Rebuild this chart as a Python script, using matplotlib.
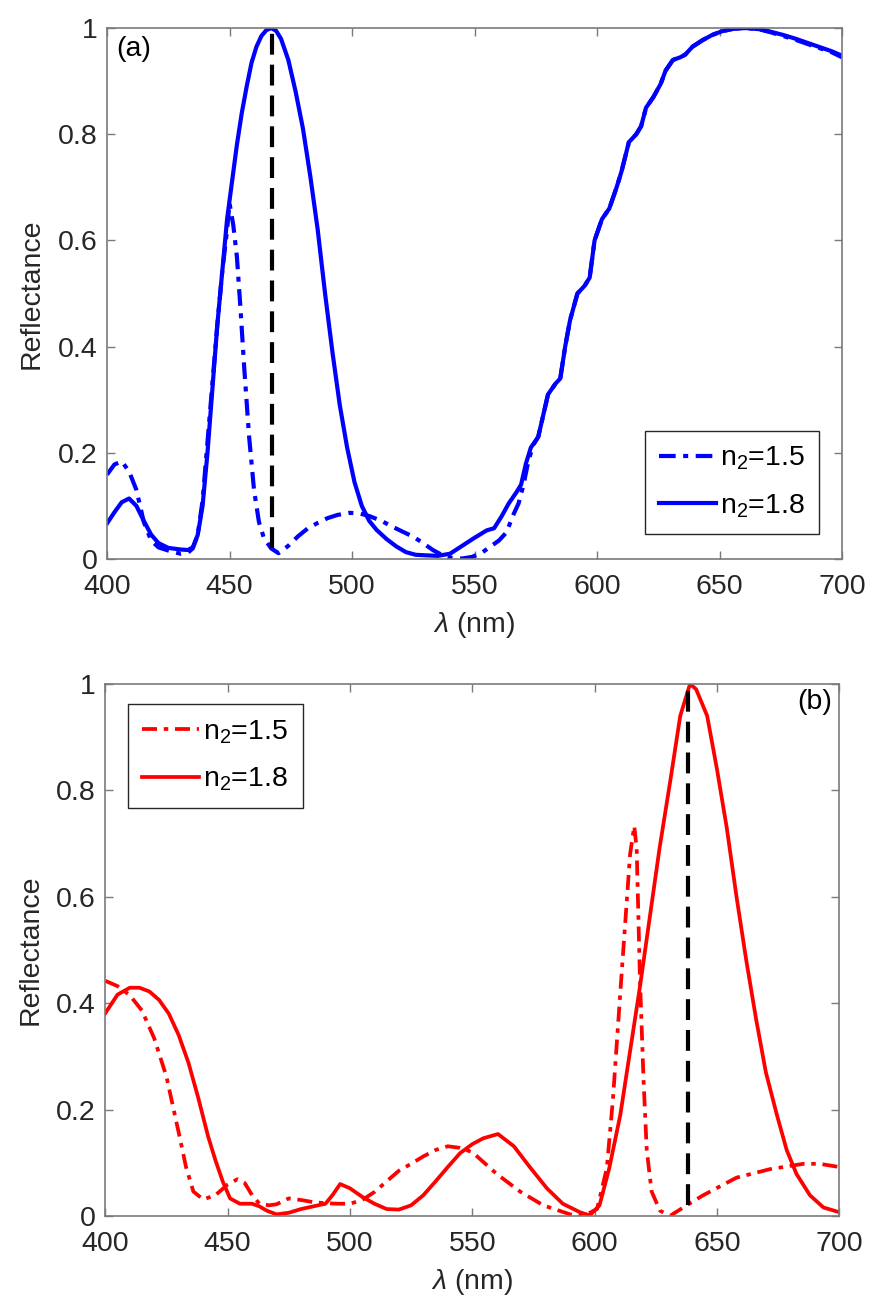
import numpy as np
import matplotlib
matplotlib.use("Agg")
import matplotlib.pyplot as plt

plt.rcParams['font.family'] = ['Liberation Sans', 'DejaVu Sans']
plt.rcParams['mathtext.fontset'] = 'custom'
plt.rcParams['mathtext.rm'] = 'Liberation Sans'
plt.rcParams['mathtext.it'] = 'Liberation Sans:italic'
plt.rcParams['mathtext.default'] = 'regular'

# ---- panel (a) data, blue ----
wl_a18 = [400, 403, 406, 409, 412, 415, 418, 421, 425, 430, 433, 435, 437, 439, 441,
          443, 445, 447, 449, 451, 453, 455, 457, 459, 461, 463, 465, 467, 469, 471,
          474, 477, 480, 483, 486, 489, 492, 495, 498, 501, 504, 507, 510, 514, 518,
          522, 526, 530, 535, 540, 545, 550, 555, 558, 561, 564, 567, 569, 571, 573,
          576, 578, 580, 583, 585, 587, 589, 592, 595, 597, 599, 602, 605, 608, 610,
          613, 616, 618, 620, 623, 626, 628, 631, 634, 636, 639, 643, 647, 651, 656,
          661, 666, 671, 676, 681, 686, 691, 696, 700]
r_a18 = [0.067, 0.088, 0.107, 0.114, 0.100, 0.072, 0.046, 0.030, 0.021, 0.018, 0.017,
         0.022, 0.045, 0.10, 0.20, 0.32, 0.44, 0.54, 0.64, 0.71, 0.78, 0.84, 0.89, 0.935,
         0.965, 0.985, 0.996, 1.0, 0.995, 0.98, 0.94, 0.88, 0.81, 0.72, 0.62, 0.50, 0.39,
         0.29, 0.21, 0.145, 0.10, 0.072, 0.055, 0.038, 0.024, 0.013, 0.008, 0.007, 0.006,
         0.010, 0.025, 0.040, 0.054, 0.058, 0.080, 0.105, 0.125, 0.14, 0.18, 0.21, 0.23,
         0.27, 0.31, 0.33, 0.34, 0.40, 0.45, 0.50, 0.515, 0.53, 0.60, 0.64, 0.66, 0.70,
         0.73, 0.785, 0.80, 0.815, 0.85, 0.87, 0.895, 0.92, 0.94, 0.945, 0.95, 0.965,
         0.977, 0.987, 0.994, 0.999, 1.0, 0.998, 0.993, 0.987, 0.98, 0.972, 0.964, 0.956,
         0.948]

wl_a15 = [400, 403, 406, 409, 412, 415, 418, 421, 425, 430, 433, 435, 437, 439, 441,
          443, 445, 447, 449, 450, 451.5, 453, 454.5, 456, 458, 460, 462, 464, 467, 470,
          474, 478, 482, 486, 490, 494, 499, 503, 507, 512, 516, 520, 525, 529, 533, 537,
          541, 545, 549, 553, 557, 560, 563, 566, 568, 570, 572, 574, 576, 578, 580, 583,
          585, 587, 589, 592, 595, 597, 599, 602, 605, 608, 610, 613, 616, 618, 620, 623,
          626, 628, 631, 634, 636, 639, 643, 647, 651, 656, 661, 666, 671, 676, 681, 686,
          691, 696, 700]
r_a15 = [0.159, 0.178, 0.184, 0.165, 0.130, 0.070, 0.035, 0.022, 0.016, 0.010, 0.012,
         0.020, 0.045, 0.11, 0.22, 0.33, 0.44, 0.54, 0.62, 0.67, 0.63, 0.57, 0.47, 0.36,
         0.23, 0.13, 0.07, 0.04, 0.02, 0.011, 0.025, 0.043, 0.058, 0.068, 0.077, 0.083,
         0.087, 0.086, 0.081, 0.072, 0.062, 0.053, 0.042, 0.030, 0.017, 0.007, 0.002,
         0.001, 0.004, 0.012, 0.025, 0.035, 0.050, 0.085, 0.105, 0.14, 0.185, 0.215, 0.23,
         0.27, 0.31, 0.33, 0.34, 0.40, 0.45, 0.50, 0.515, 0.53, 0.60, 0.64, 0.66, 0.70,
         0.73, 0.785, 0.80, 0.815, 0.85, 0.87, 0.895, 0.92, 0.94, 0.945, 0.95, 0.965,
         0.977, 0.987, 0.994, 0.999, 1.0, 0.998, 0.992, 0.985, 0.978, 0.970, 0.962, 0.954,
         0.945]

# ---- panel (b) data, red ----
wl_b18 = [400, 405, 410, 414, 418, 422, 426, 430, 434, 438, 442, 445, 448, 451, 455,
          460, 463, 466, 470, 475, 480, 485, 490, 493, 496, 500, 505, 510, 515, 520, 525,
          530, 535, 540, 545, 550, 554.5, 560.5, 567, 573.5, 580.5, 587, 594, 598, 602,
          606, 610.5, 614.5, 618.5, 622.5, 626.5, 631, 635, 639, 641.5, 646, 650, 654, 658,
          662, 666, 670, 674.5, 678.5, 682.5, 688, 693.5, 700]
r_b18 = [0.381, 0.416, 0.429, 0.429, 0.422, 0.406, 0.380, 0.340, 0.288, 0.222, 0.150,
         0.105, 0.065, 0.033, 0.023, 0.023, 0.018, 0.010, 0.003, 0.006, 0.013, 0.018,
         0.023, 0.040, 0.060, 0.052, 0.036, 0.023, 0.013, 0.012, 0.020, 0.039, 0.065,
         0.092, 0.118, 0.135, 0.146, 0.154, 0.131, 0.092, 0.052, 0.023, 0.007, 0.001,
         0.020, 0.090, 0.19, 0.31, 0.43, 0.56, 0.69, 0.82, 0.94, 1.0, 0.99, 0.94, 0.84,
         0.73, 0.60, 0.48, 0.37, 0.27, 0.19, 0.124, 0.079, 0.039, 0.016, 0.007]

wl_b15 = [400, 405, 410, 415, 420, 425, 430, 433, 436, 440, 445, 450, 454, 457, 460,
          463, 467, 470, 475, 480, 485, 490, 495, 500, 505, 510, 515, 520, 525, 530, 535,
          540, 545, 550, 560, 569.5, 579, 590, 595.5, 601, 605, 607.5, 610.5, 612.5,
          614.5, 616.2, 617.2, 618.5, 620, 621.3, 623.3, 626.7, 630.8, 637.6, 644.4, 658,
          671.7, 685.3, 692, 700]
r_b15 = [0.442, 0.432, 0.415, 0.386, 0.334, 0.262, 0.157, 0.092, 0.046, 0.031, 0.039,
         0.059, 0.069, 0.062, 0.039, 0.023, 0.020, 0.022, 0.033, 0.030, 0.026, 0.024,
         0.023, 0.023, 0.030, 0.045, 0.065, 0.085, 0.098, 0.112, 0.124, 0.131, 0.128,
         0.120, 0.079, 0.046, 0.020, 0.003, 0.0, 0.013, 0.09, 0.22, 0.42, 0.55, 0.68,
         0.733, 0.69, 0.45, 0.255, 0.124, 0.046, 0.010, 0.0, 0.020, 0.039, 0.072, 0.088,
         0.098, 0.098, 0.092]

peak_a = 467.5
peak_b = 638.3
peak_lo = [0.02, 0.02]

labels = ['n$_2$=1.5', 'n$_2$=1.8']
yticks = [0, 0.2, 0.4, 0.6, 0.8, 1]
ytick_labels = ['0', '0.2', '0.4', '0.6', '0.8', '1']
xticks = [400, 450, 500, 550, 600, 650, 700]

fs = 20.5
txt = '#262626'
dashdot = (4, 1.8, 1.2, 1.8)

fig = plt.figure(figsize=(8.78, 13.12), dpi=100)
ax1 = fig.add_axes([0.1219, 0.5739, 0.8371, 0.4047])
ax2 = fig.add_axes([0.1199, 0.0732, 0.8360, 0.4055])


def style(ax):
    ax.set_xlim(400, 700)
    ax.set_ylim(0, 1)
    ax.set_xticks(xticks)
    ax.set_yticks(yticks)
    ax.set_yticklabels(ytick_labels)
    ax.tick_params(direction='in', length=6, width=1, colors='#7a7a7a',
                   labelcolor=txt, labelsize=fs, top=True, right=True)
    ax.tick_params(axis='x', pad=11)
    ax.tick_params(axis='y', pad=7)
    for s in ax.spines.values():
        s.set_color('#7a7a7a')
        s.set_linewidth(1.2)
    ax.set_xlabel(r'$\mathit{\lambda}$ (nm)', fontsize=fs, color=txt, labelpad=7)
    ax.set_ylabel('Reflectance', fontsize=fs, color=txt, labelpad=9)


style(ax1)
ax1.plot(wl_a15, r_a15, color='#0000ff', lw=3, dashes=dashdot, label=labels[0])
ax1.plot(wl_a18, r_a18, color='#0000ff', lw=3, label=labels[1])
ax1.vlines(peak_a, peak_lo[0], 1, color='black', lw=3, linestyles=(0, (5, 2.4)))
ax1.text(0.012, 0.985, '(a)', transform=ax1.transAxes, fontsize=fs, color='black',
         va='top', ha='left')
ax1.legend(loc='lower right', bbox_to_anchor=(0.969, 0.047), borderaxespad=0,
           fontsize=fs, fancybox=False, framealpha=1, edgecolor='#262626',
           handlelength=2.0, handletextpad=0.15, borderpad=0.5, labelspacing=0.7)

style(ax2)
ax2.plot(wl_b15, r_b15, color='#ff0000', lw=2.7, dashes=dashdot, label=labels[0])
ax2.plot(wl_b18, r_b18, color='#ff0000', lw=2.7, label=labels[1])
ax2.vlines(peak_b, peak_lo[1], 1, color='black', lw=3, linestyles=(0, (5, 2.4)))
ax2.text(0.99, 0.99, '(b)', transform=ax2.transAxes, fontsize=fs, color='black',
         va='top', ha='right')
ax2.legend(loc='upper left', bbox_to_anchor=(0.031, 0.962), borderaxespad=0,
           fontsize=fs, fancybox=False, framealpha=1, edgecolor='#262626',
           handlelength=2.0, handletextpad=0.15, borderpad=0.5, labelspacing=0.7)

fig.savefig('out.png', dpi=100, facecolor='white')
